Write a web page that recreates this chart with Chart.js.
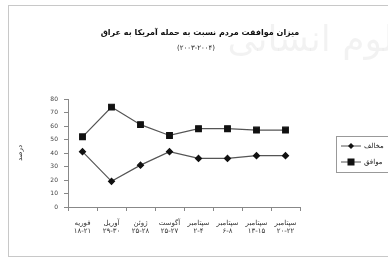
<!DOCTYPE html>
<html>
<head>
<meta charset="utf-8">
<script src="https://cdn.jsdelivr.net/npm/chart.js@4/dist/chart.umd.min.js"></script>
<style>
  html, body { margin: 0; padding: 0; background: #fff; }
  #wrap { position: relative; width: 388px; height: 260px; overflow: hidden; }
  #frame { position: absolute; left: 8px; top: 5px; width: 400px; height: 250px; border: 1px solid #c8c8c8; }
  canvas { position: absolute; left: 0; top: 0; }
</style>
</head>
<body>
<div id="wrap">
  <div id="frame"></div>
  <canvas id="c" width="388" height="260"></canvas>
</div>
<script>
// ── data ──
const titleText = 'میزان موافقت مردم نسبت به حمله آمریکا به عراق';
const subText   = '(۲۰۰۳-۲۰۰۴)';
const months = ['فوریه', 'آوریل', 'ژوئن', 'آگوست', 'سپتامبر', 'سپتامبر', 'سپتامبر', 'سپتامبر'];
const dates  = ['۱۸-۲۱', '۲۹-۳۰', '۲۵-۲۸', '۲۵-۲۷', '۲-۴', '۶-۸', '۱۳-۱۵', '۲۰-۲۲'];
const agree    = [52, 74, 61, 53, 58, 58, 57, 57];   // موافق
const disagree = [41, 19, 31, 41, 36, 36, 38, 38];   // مخالف
const yTicks = [0, 10, 20, 30, 40, 50, 60, 70, 80];

const FONT = 'DejaVu Sans, sans-serif';

// faint watermark + centred title/subtitle
const heading = {
  id: 'heading',
  beforeDraw(chart) {
    const { ctx } = chart;
    ctx.save();
    ctx.fillStyle = 'rgba(0,0,0,0.05)';
    ctx.font = '36px ' + FONT;
    ctx.textAlign = 'center';
    ctx.textBaseline = 'middle';
    ctx.fillText('علوم انسانی', 322, 42);
    ctx.fillStyle = '#111';
    ctx.font = 'bold 8px ' + FONT;
    ctx.fillText(titleText, 200, 33);
    ctx.fillStyle = '#222';
    ctx.font = '7px ' + FONT;
    ctx.fillText(subText, 196, 48);
    ctx.restore();
  }
};

// boxed legend at right, line + marker like the original
const boxLegend = {
  id: 'boxLegend',
  afterDraw(chart) {
    const { ctx } = chart;
    const items = [chart.data.datasets[1], chart.data.datasets[0]];
    ctx.save();
    ctx.strokeStyle = '#999';
    ctx.lineWidth = 1;
    ctx.strokeRect(336.5, 136.5, 60, 36);
    items.forEach((ds, i) => {
      const y = 146 + i * 16;
      ctx.strokeStyle = ds.borderColor;
      ctx.lineWidth = 1;
      ctx.beginPath(); ctx.moveTo(341, y); ctx.lineTo(361, y); ctx.stroke();
      ctx.fillStyle = ds.pointBackgroundColor;
      if (ds.pointStyle === 'rect') {
        ctx.fillRect(351 - 3.5, y - 3.5, 7, 7);
      } else {
        ctx.beginPath();
        ctx.moveTo(351, y - 3); ctx.lineTo(354, y); ctx.lineTo(351, y + 3); ctx.lineTo(348, y);
        ctx.closePath(); ctx.fill();
      }
      ctx.fillStyle = '#222';
      ctx.font = '7px ' + FONT;
      ctx.textAlign = 'left';
      ctx.textBaseline = 'middle';
      ctx.fillText(ds.label, 364, y);
    });
    ctx.restore();
  }
};

new Chart(document.getElementById('c'), {
  type: 'line',
  data: {
    labels: months.map((m, i) => [m, dates[i]]),
    datasets: [
      { label: 'موافق', data: agree, borderColor: '#555', borderWidth: 1.2,
        pointStyle: 'rect', pointRadius: 4, pointBackgroundColor: '#111', pointBorderColor: '#111' },
      { label: 'مخالف', data: disagree, borderColor: '#555', borderWidth: 1.2,
        pointStyle: 'rectRot', pointRadius: 3, pointBackgroundColor: '#111', pointBorderColor: '#111' }
    ]
  },
  options: {
    responsive: false, animation: false,
    layout: { padding: { left: 0, right: 88, top: 99, bottom: 10 } },
    plugins: {
      legend: { display: false },
      tooltip: { enabled: false },
      title: { display: false },
      subtitle: { display: false }
    },
    scales: {
      x: {
        offset: true,
        grid: { offset: true, drawOnChartArea: false, drawTicks: true, tickLength: 4, color: '#888' },
        border: { color: '#888' },
        ticks: { color: '#333', font: { family: FONT, size: 7 }, maxRotation: 0, autoSkip: false, padding: 8 },
        afterFit: s => { s.height = 43; }
      },
      y: {
        min: 0, max: 80,
        afterBuildTicks: s => { s.ticks = yTicks.map(v => ({ value: v })); },
        grid: { drawOnChartArea: false, drawTicks: true, tickLength: 4, color: '#888' },
        border: { color: '#888' },
        ticks: { color: '#444', font: { family: FONT, size: 6 }, padding: 6 },
        title: { display: true, text: 'درصد', color: '#333', font: { family: FONT, size: 7 }, padding: { top: 16, bottom: 0 } },
        afterFit: s => { s.width = 68; }
      }
    }
  },
  plugins: [heading, boxLegend]
});
</script>
</body>
</html>
